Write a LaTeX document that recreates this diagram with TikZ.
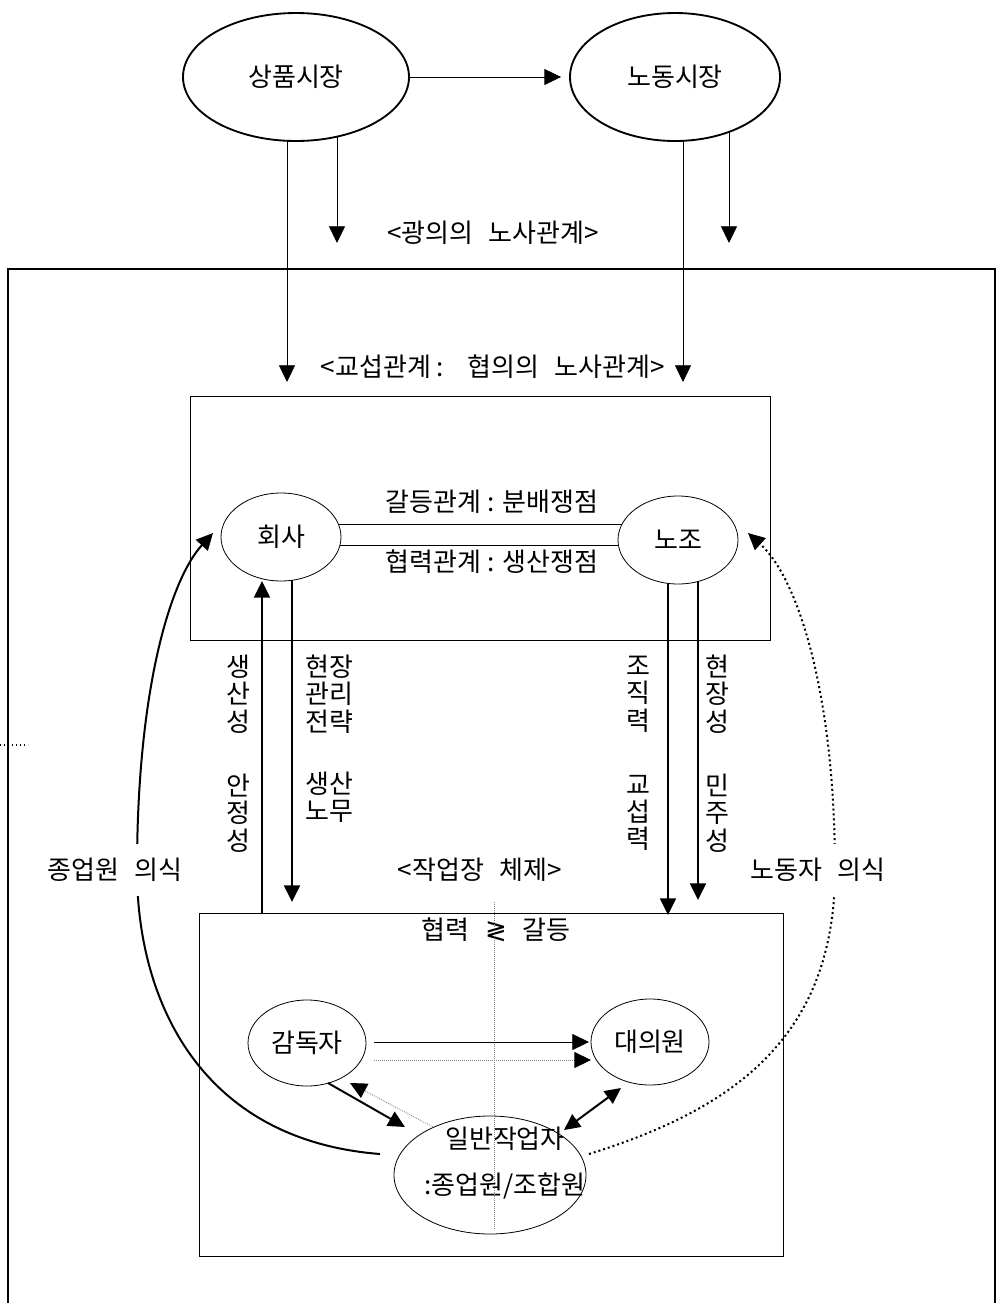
\documentclass[tikz,border=0pt]{standalone}
\usepackage{fontspec}
\setmainfont{Noto Sans CJK KR}
\newfontfamily\symfont{DejaVu Sans}
\usetikzlibrary{arrows.meta,shapes.geometric}
\newcommand\pxu{0.75pt}
\newcommand\wsp{\hspace{0.6em}}
\begin{document}
\begin{tikzpicture}[x=0.75pt,y=-0.75pt,
  lbl/.style={font=\fontsize{19.5}{20.5}\selectfont, inner sep=0pt, align=center},
  mkt/.style={draw, ellipse, line width=1.4pt, inner sep=0pt, font=\fontsize{19.5}{20.5}\selectfont},
  ell/.style={draw, ellipse, line width=0.6pt, inner sep=0pt, font=\fontsize{19.5}{20.5}\selectfont},
  boxnode/.style={draw, line width=0.7pt, inner sep=0pt},
  tri/.style={-{Triangle[length=12.5pt,width=12pt,color=black]}},
  bitri/.style={{Triangle[length=12pt,width=11.5pt]}-{Triangle[length=12pt,width=11.5pt]}},
  thinln/.style={line width=0.6pt},
  thickln/.style={line width=1.5pt},
  framel/.style={line width=1.9pt},
  greydot/.style={line width=0.5pt, gray, dash pattern=on 0.6pt off 0.9pt},
  blackdot/.style={line width=1.5pt, dash pattern=on 1.5pt off 2.2pt},
  cover/.style={lbl, fill=white, inner xsep=1pt, inner ysep=11pt}
]
\useasboundingbox (0,0) rectangle (998,1303);

% outer frame (open at bottom)
\coordinate (fbl) at (8,1303);
\coordinate (ftl) at (8,269);
\coordinate (ftr) at (995,269);
\coordinate (fbr) at (995,1303);
\draw[framel] (fbl) -- (ftl) -- (ftr) -- (fbr);

% markets
\node[mkt, minimum width=226*\pxu, minimum height=128*\pxu] (goods) at (296,77) {상품시장};
\node[mkt, minimum width=210*\pxu, minimum height=128*\pxu] (labor) at (675,77) {노동시장};
\draw[thinln, tri, shorten >=6pt] (goods.east) -- (labor.west);

\coordinate (g1s) at (287,141); \coordinate (g1e) at (287,382);
\coordinate (g2s) at (337,137); \coordinate (g2e) at (337,243);
\coordinate (l1s) at (683,141); \coordinate (l1e) at (683,382);
\coordinate (l2s) at (729,132); \coordinate (l2e) at (729,243);
\draw[thinln, tri] (g1s) -- (g1e);
\draw[thinln, tri] (g2s) -- (g2e);
\draw[thinln, tri] (l1s) -- (l1e);
\draw[thinln, tri] (l2s) -- (l2e);

\node[lbl] (broad) at (493,233) {<광의의\wsp 노사관계>};
\node[lbl] (narrow) at (493,367) {<교섭관계 :\hspace{0.9em}협의의\wsp 노사관계>};

% bargaining box
\node[boxnode, minimum width=580*\pxu, minimum height=244*\pxu] (box1) at (480,518) {};
\node[ell, minimum width=120*\pxu, minimum height=88*\pxu] (company) at (281,537) {회사};
\node[ell, minimum width=120*\pxu, minimum height=88*\pxu] (union) at (678,540) {노조};
\coordinate (d1a) at (338,524); \coordinate (d1b) at (622,524);
\coordinate (d2a) at (340,545); \coordinate (d2b) at (618,545);
\draw[thinln] (d1a) -- (d1b);
\draw[thinln] (d2a) -- (d2b);
\node[lbl] (conflict) at (492,502) {갈등관계 : 분배쟁점};
\node[lbl] (coop) at (492,562) {협력관계 : 생산쟁점};

% workplace box
\node[boxnode, minimum width=584*\pxu, minimum height=343*\pxu] (box2) at (491,1084.5) {};
\node[lbl] (workplace) at (480,870) {<작업장\wsp 체제>};
\node[lbl] (balance) at (496,930) {협력\wsp{\symfont ≷}\wsp 갈등};

% vertical arrows between boxes
\coordinate (up1s) at (262,913); \coordinate (up1e) at (262,581);
\coordinate (dn1s) at (292,580); \coordinate (dn1e) at (292,902);
\coordinate (dn2s) at (668,583); \coordinate (dn2e) at (668,915);
\coordinate (dn3s) at (698,581); \coordinate (dn3e) at (698,900);
\draw[thickln, tri] (up1s) -- (up1e);
\draw[thickln, tri] (dn1s) -- (dn1e);
\draw[thickln, tri] (dn2s) -- (dn2e);
\draw[thickln, tri] (dn3s) -- (dn3e);

\node[lbl] (prod) at (238,694) {생\\산\\성};
\node[lbl] (stab) at (238,813) {안\\정\\성};
\node[lbl] (mgmt) at (329,694) {현장\\관리\\전략};
\node[lbl] (labr) at (329,797) {생산\\노무};
\node[lbl] (org) at (638,694) {조\\직\\력};
\node[lbl] (barg) at (638,813) {교\\섭\\력};
\node[lbl] (site) at (717,694) {현\\장\\성};
\node[lbl] (demo) at (717,813) {민\\주\\성};

% workplace actors
\node[ell, minimum width=118*\pxu, minimum height=86*\pxu] (sup) at (307,1043) {감독자};
\node[ell, minimum width=118*\pxu, minimum height=86*\pxu] (rep) at (650,1042) {대의원};
\node[ell, minimum width=192*\pxu, minimum height=118*\pxu] (worker) at (490,1175) {};
\node[lbl, font=\fontsize{19.5}{35}\selectfont] (workertext) at (505,1163) {일반작업자\\:종업원/조합원};

\draw[greydot] (494,902) -- (494,1230);

\coordinate (sr1) at (374,1042); \coordinate (sr1e) at (589,1042);
\coordinate (sr2) at (374,1060); \coordinate (sr2e) at (591,1060);
\draw[thinln, tri] (sr1) -- (sr1e);
\draw[greydot, line width=0.7pt, tri] (sr2) -- (sr2e);
\coordinate (sw1) at (328,1083); \coordinate (sw1e) at (405,1127);
\draw[thickln, tri] (sw1) -- (sw1e);
\coordinate (ws1) at (433,1127); \coordinate (ws1e) at (350,1083);
\draw[greydot, line width=0.7pt, tri] (ws1) -- (ws1e);
\coordinate (wr1) at (564,1130); \coordinate (wr1e) at (621,1088);
\draw[thickln, bitri] (wr1) -- (wr1e);

% consciousness curves
\coordinate (lc0) at (380,1154);
\coordinate (lcm) at (137,870);
\coordinate (lc1) at (213,533);
\draw[thickln, tri] (lc0) .. controls (200,1140) and (137,1000) .. (lcm)
   .. controls (137,690) and (170,580) .. (lc1);
\coordinate (rc0) at (589,1154);
\coordinate (rcm) at (835,870);
\coordinate (rc1) at (748,533);
\draw[blackdot, tri] (rc0) .. controls (730,1110) and (835,1040) .. (rcm)
   .. controls (835,700) and (800,580) .. (rc1);

\node[cover] (empc) at (115,870) {종업원\wsp 의식};
\node[cover] (labc) at (818,870) {노동자\wsp 의식};

% stray dotted mark at left
\coordinate (st0) at (0,745); \coordinate (st1) at (28,745);
\draw[line width=0.8pt, dash pattern=on 1pt off 2pt] (st0) -- (st1);
\end{tikzpicture}
\end{document}
